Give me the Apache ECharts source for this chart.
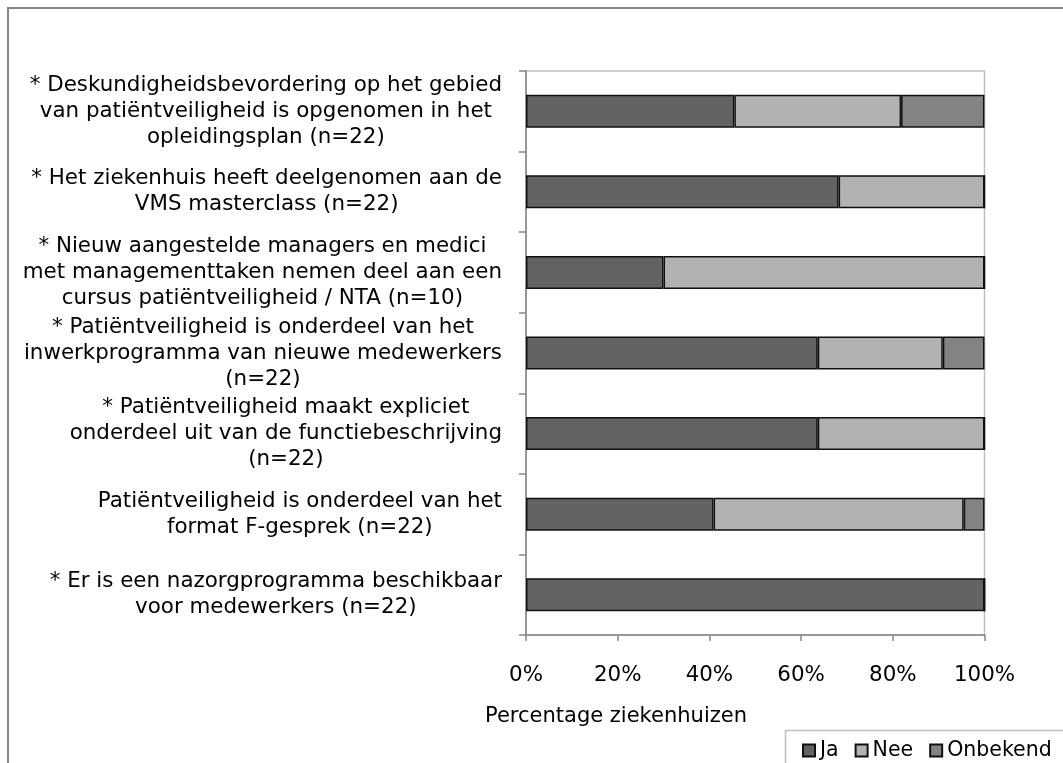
<!DOCTYPE html>
<html>
<head>
<meta charset="utf-8">
<script src="https://cdn.jsdelivr.net/npm/echarts@6/dist/echarts.min.js"></script>
<style>
html,body{margin:0;padding:0;background:#fff;}
#chart{width:1063px;height:763px;}
</style>
</head>
<body>
<div id="chart"></div>
<script>
var categories = [
  "* Deskundigheidsbevordering op het gebied\nvan patiëntveiligheid is opgenomen in het\nopleidingsplan (n=22)",
  "* Het ziekenhuis heeft deelgenomen aan de\nVMS masterclass (n=22)",
  "* Nieuw aangestelde managers en medici\nmet managementtaken nemen deel aan een\ncursus patiëntveiligheid / NTA (n=10)",
  "* Patiëntveiligheid is onderdeel van het\ninwerkprogramma van nieuwe medewerkers\n(n=22)",
  "* Patiëntveiligheid maakt expliciet\nonderdeel uit van de functiebeschrijving\n(n=22)",
  "Patiëntveiligheid is onderdeel van het\nformat F-gesprek (n=22)",
  "* Er is een nazorgprogramma beschikbaar\nvoor medewerkers (n=22)"
];
var seriesNames = ["Ja", "Nee", "Onbekend"];
var ja       = [45.45, 68.18, 30, 63.64, 63.64, 40.91, 100];
var nee      = [36.36, 31.82, 70, 27.27, 36.36, 54.55, 0];
var onbekend = [18.18, 0, 0, 9.09, 0, 4.55, 0];
var tickLabels = ["0%", "20%", "40%", "60%", "80%", "100%"];
var axisTitle = "Percentage ziekenhuizen";

var FONT = "DejaVu Sans";
var FS = 21.4;
var colors = ["#636363", "#b2b2b2", "#838383"];
var values = [ja, nee, onbekend];

var chart = echarts.init(document.getElementById('chart'), null, {renderer: 'canvas'});

var series = seriesNames.map(function (name, i) {
  return {
    name: name,
    type: 'bar',
    stack: 'total',
    barWidth: 33,
    data: values[i],
    itemStyle: {color: colors[i], borderColor: '#111', borderWidth: 1.5},
    emphasis: {disabled: true}
  };
});

chart.setOption({
  animation: false,
  textStyle: {fontFamily: FONT},
  grid: {
    left: 526, top: 71, width: 458.5, height: 564,
    show: true, borderColor: '#c0c0c0', borderWidth: 1.5, backgroundColor: 'transparent',
    containLabel: false
  },
  xAxis: {
    type: 'value',
    min: 0, max: 100, interval: 20,
    axisLine: {show: true, lineStyle: {color: '#868686', width: 1.5}},
    axisTick: {show: true, length: 6, lineStyle: {color: '#868686', width: 1.5}},
    splitLine: {show: false},
    axisLabel: {
      margin: 30, color: '#000', fontSize: FS, fontFamily: FONT,
      formatter: function (v) { return tickLabels[Math.round(v / 20)]; }
    }
  },
  yAxis: {
    type: 'category',
    inverse: true,
    data: categories,
    axisLine: {show: true, lineStyle: {color: '#868686', width: 1.5}},
    axisTick: {show: true, length: 7, lineStyle: {color: '#868686', width: 1.5}},
    axisLabel: {
      margin: 24, color: '#000', fontSize: FS, fontFamily: FONT, lineHeight: 26,
      formatter: function (v) {
        return v.split('\n').map(function (l) { return '{c|' + l + '}'; }).join('\n');
      },
      rich: {c: {align: 'center', fontSize: FS, lineHeight: 26, fontFamily: FONT, color: '#000'}}
    }
  },
  legend: {
    left: 797, top: 735, width: 500, orient: 'horizontal',
    icon: 'rect',
    itemWidth: 12, itemHeight: 12, itemGap: 16,
    textStyle: {fontSize: 20.5, fontFamily: FONT, color: '#000'},
    data: seriesNames
  },
  graphic: [
    {type: 'rect', shape: {x: 8, y: 8, width: 1200, height: 900},
     style: {fill: 'none', stroke: '#868686', lineWidth: 2}, silent: true},
    {type: 'rect', shape: {x: 785.5, y: 730.5, width: 300, height: 60},
     style: {fill: '#fff', stroke: '#bfbfbf', lineWidth: 1.5}, silent: true},
    {type: 'text', x: 616, y: 717,
     style: {text: axisTitle, fontSize: 21, fontFamily: FONT, fill: '#000', textAlign: 'center', textVerticalAlign: 'middle'},
     silent: true}
  ],
  series: series
});
</script>
</body>
</html>
